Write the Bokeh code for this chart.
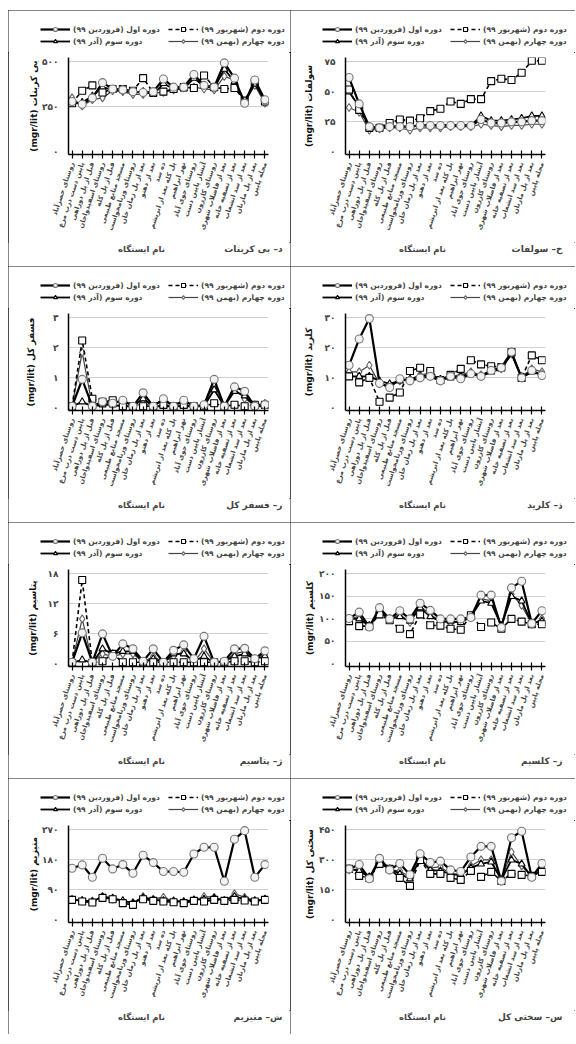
from bokeh.plotting import figure
from bokeh.models import Range1d, FixedTicker, Legend, LegendItem, Label, Spacer
from bokeh.layouts import row, column
from bokeh.embed import file_html
from bokeh.resources import INLINE

# ---------------- data ----------------
stations = [
    "روستای حصرآباد", "پایین دست درب مرغ", "قبل از پل دوراهی", "روستای اسفیدواجان",
    "قبل از پل کله", "مسجد منابع طبیعی", "روستای ورنامخواست", "بعد از پل زمان خان",
    "بعد از دهنو", "ده سد", "پل کله بعد از ابریشم", "نهر ابراهیم",
    "روستای جوی آباد", "آبشار پایین دست", "روستای کازرون", "بعد از فاضلاب شهری",
    "بعد از تصفیه خانه", "بعد از سد انشعاب", "بعد از پل مارنان", "محله پایین",
]
periods = ["دوره اول (فروردین ۹۹)", "دوره دوم (شهریور ۹۹)",
           "دوره سوم (آذر ۹۹)", "دوره چهارم (بهمن ۹۹)"]
station_title = "نام ایستگاه"
unit = "(mgr/lit)"

bicarb_p1 = [280, 265, 300, 385, 350, 345, 335, 330, 335, 405, 360, 360, 430, 370, 360, 495, 410, 270, 400, 290]
bicarb_p2 = [270, 340, 370, 330, 350, 350, 340, 410, 330, 335, 350, 360, 355, 425, 360, 350, 355, 285, 385, 280]
bicarb_p3 = [265, 275, 310, 360, 345, 340, 330, 335, 320, 380, 350, 350, 410, 365, 355, 460, 390, 280, 380, 285]
bicarb_p4 = [300, 255, 290, 300, 340, 335, 320, 320, 330, 330, 345, 355, 360, 350, 345, 420, 400, 275, 370, 270]
bicarb_ticks = [0, 250, 500]

sulfate_p1 = [62, 40, 21, 20, 21, 21, 21, 22, 22, 22, 22, 22, 22, 27, 24, 24, 25, 25, 26, 26]
sulfate_p2 = [52, 35, 20, 20, 24, 27, 26, 28, 34, 36, 42, 40, 44, 44, 59, 61, 60, 66, 76, 76]
sulfate_p3 = [50, 38, 20, 20, 21, 21, 21, 22, 22, 22, 22, 22, 22, 30, 26, 26, 27, 28, 30, 30]
sulfate_p4 = [37, 33, 18, 19, 20, 20, 18, 20, 20, 20, 21, 21, 21, 23, 22, 21, 22, 22, 23, 23]
sulfate_ticks = [0, 25, 50, 75]

phos_p1 = [0.05, 0.95, 0.05, 0.2, 0.15, 0.25, 0.05, 0.5, 0.05, 0.3, 0.05, 0.25, 0.05, 0.1, 0.95, 0.05, 0.7, 0.55, 0.05, 0.1]
phos_p2 = [0.05, 2.25, 0.3, 0.2, 0.25, 0.05, 0.05, 0.05, 0.05, 0.1, 0.05, 0.1, 0.05, 0.05, 0.15, 0.05, 0.1, 0.05, 0.1, 0.1]
phos_p3 = [0.05, 0.2, 0.05, 0.1, 0.1, 0.05, 0.05, 0.3, 0.05, 0.05, 0.05, 0.05, 0.05, 0.05, 0.6, 0.05, 0.55, 0.4, 0.05, 0.05]
phos_p4 = [0.05, 1.85, 0.05, 0.15, 0.1, 0.05, 0.05, 0.15, 0.05, 0.1, 0.05, 0.1, 0.05, 0.05, 0.8, 0.05, 0.65, 0.3, 0.1, 0.15]
phos_ticks = [0, 1, 2, 3]

chloride_p1 = [14.2, 23, 29.8, 8.2, 6.8, 9.7, 9, 10, 10.5, 9, 10.5, 9.7, 11.4, 10.5, 12.5, 13.4, 18.6, 10, 12.5, 10.8]
chloride_p2 = [10.5, 8.5, 10, 2, 3.4, 5.1, 12.3, 13.4, 12.3, 9.3, 11, 13, 15.9, 14.5, 13.9, 13.6, 18.6, 10, 17.5, 15.9]
chloride_p3 = [10.5, 10.5, 10.5, 9, 8, 9, 9.5, 10.5, 11, 9.5, 10, 10.5, 11.5, 10.5, 12, 13, 18, 10, 12, 11]
chloride_p4 = [12, 12, 14.2, 8, 7.5, 9, 9.5, 11, 11.5, 9.5, 10.5, 11, 12, 11, 12.5, 13, 18, 10.5, 13, 12]
chloride_ticks = [0, 10, 20, 30]

potassium_p1 = [0.3, 6.2, 0.3, 6.0, 1.5, 4.0, 3.0, 0.5, 3.0, 0.3, 2.7, 3.8, 1.0, 5.5, 0.3, 0.5, 3.0, 3.1, 1.0, 2.6]
potassium_p2 = [0.2, 16.8, 0.2, 0.5, 2.0, 0.3, 0.3, 0.3, 0.3, 0.3, 0.3, 0.3, 0.3, 0.3, 0.3, 0.3, 0.5, 0.5, 0.3, 0.5]
potassium_p3 = [0.2, 0.8, 0.2, 3.0, 2.0, 2.5, 2.5, 0.3, 1.0, 0.3, 2.0, 2.0, 0.5, 1.5, 0.2, 0.5, 1.5, 2.0, 1.0, 1.5]
potassium_p4 = [0.3, 9.0, 0.3, 2.0, 1.5, 2.0, 2.0, 0.3, 1.5, 0.3, 1.5, 2.5, 0.3, 3.0, 0.3, 0.5, 2.0, 2.5, 1.0, 2.0]
potassium_ticks = [0, 6, 12, 18]

calcium_p1 = [101, 115, 82, 125, 100, 118, 100, 135, 119, 100, 100, 100, 103, 153, 153, 81, 169, 184, 90, 118]
calcium_p2 = [95, 84, 84, 110, 97, 78, 66, 110, 86, 85, 78, 76, 108, 82, 92, 78, 100, 94, 88, 88]
calcium_p3 = [100, 100, 85, 115, 100, 105, 95, 125, 105, 95, 95, 92, 105, 140, 135, 85, 150, 140, 90, 95]
calcium_p4 = [100, 105, 85, 120, 100, 110, 92, 128, 110, 95, 90, 95, 108, 145, 140, 85, 155, 130, 88, 100]
calcium_ticks = [0, 50, 100, 150, 200]

magnesium_p1 = [155, 165, 128, 185, 153, 166, 140, 194, 172, 145, 145, 143, 198, 218, 218, 116, 242, 268, 128, 166]
magnesium_p2 = [60, 55, 52, 66, 62, 50, 45, 62, 57, 55, 53, 50, 57, 55, 60, 57, 60, 58, 55, 60]
magnesium_p3 = [60, 58, 55, 70, 65, 58, 50, 66, 60, 58, 57, 55, 60, 62, 65, 58, 70, 62, 57, 62]
magnesium_p4 = [62, 58, 56, 68, 62, 55, 52, 70, 62, 68, 55, 52, 58, 70, 68, 57, 78, 68, 58, 60]
magnesium_ticks = [0, 90, 180, 270]

hardness_p1 = [255, 277, 206, 308, 250, 282, 226, 331, 287, 294, 250, 242, 315, 368, 368, 194, 411, 444, 213, 282]
hardness_p2 = [255, 220, 210, 280, 255, 210, 170, 300, 230, 230, 210, 200, 245, 215, 240, 195, 230, 225, 220, 240]
hardness_p3 = [255, 245, 215, 290, 255, 230, 205, 305, 250, 245, 230, 225, 260, 280, 290, 200, 300, 280, 215, 250]
hardness_p4 = [250, 255, 210, 295, 250, 245, 215, 300, 260, 265, 230, 220, 270, 300, 300, 200, 340, 270, 215, 265]
hardness_ticks = [0, 150, 300, 450]

# ---------------- styling ----------------
FONT = "DejaVu Sans"
FW, FH = 200, 97
LEG_H, CAP_H = 42, 24
TOP, BOTTOM = 5, 88
EXT_LO, EXT_HI = 0.03, 0.05
RLM = "\u200f"
FA_DIGITS = str.maketrans("0123456789", "۰۱۲۳۴۵۶۷۸۹")


def fa(n):
    return str(n).translate(FA_DIGITS)


series_style = [
    dict(marker="circle", size=8, mline="#777777", mfill="#f2f2f2", color="black", width=2.2, dash="solid"),
    dict(marker="square", size=7, mline="black", mfill="white", color="black", width=1.6, dash="4 3"),
    dict(marker="triangle", size=7, mline="black", mfill="white", color="black", width=1.8, dash="solid"),
    dict(marker="diamond", size=8, mline="#666666", mfill="white", color="#444444", width=1.2, dash="solid"),
]


def strip(width, height):
    s = figure(width=width, height=height, min_border=0, x_axis_type=None, y_axis_type=None,
               x_range=Range1d(0, 1), y_range=Range1d(0, 1), frame_align=False,
               output_backend="svg", toolbar_location=None)
    s.outline_line_color = None
    s.grid.visible = False
    return s


def legend_strip(width, values):
    """Slim plot carrying the four-period key; its series sit outside its own view."""
    lf = strip(width, LEG_H)
    lf.y_range = Range1d(-1e9, -1e9 + 1)
    xs = list(range(len(stations)))
    spots = [(32, 18), (160, 18), (32, 6), (160, 6)]
    for k, st in enumerate(series_style):
        lr = lf.line(xs, values[k], line_color=st["color"], line_width=st["width"], line_dash=st["dash"])
        sr = lf.scatter(xs, values[k], marker=st["marker"], size=st["size"],
                        line_color=st["mline"], fill_color=st["mfill"], line_width=1.1)
        leg = Legend(items=[LegendItem(label=periods[k] + RLM, renderers=[lr, sr])],
                     location=spots[k], orientation="horizontal",
                     label_text_font=FONT, label_text_font_style="bold",
                     label_text_font_size="7.5px", label_height=10, glyph_height=10,
                     glyph_width=30, label_standoff=3, spacing=0, padding=0, margin=0,
                     border_line_color=None, background_fill_alpha=0)
        lf.add_layout(leg)
    return lf


def caption_strip(width, col, caption):
    cf = strip(width, CAP_H)
    cf.add_layout(Label(x=133 if col == 0 else 132, y=CAP_H - 6, x_units="screen", y_units="screen",
                        text=station_title, text_align="center", text_baseline="middle",
                        text_font=FONT, text_font_style="bold", text_font_size="8.5px"))
    cf.add_layout(Label(x=274 if col == 0 else 272, y=CAP_H - 6, x_units="screen", y_units="screen",
                        text=caption, text_align="right", text_baseline="middle",
                        text_font=FONT, text_font_style="bold", text_font_size="9px"))
    return cf


def make_panel(col, values, ticks, name, caption):
    width = 282 if col == 0 else 285
    left = 60 if col == 0 else 55
    right = width - left - FW
    top_tick = ticks[-1]
    p = figure(frame_width=FW, frame_height=FH,
               min_border_left=left, min_border_right=right,
               min_border_top=TOP, min_border_bottom=BOTTOM,
               x_range=Range1d(-0.35, len(stations) - 1 + 0.35),
               y_range=Range1d(-EXT_LO * top_tick, (1 + EXT_HI) * top_tick),
               frame_align=False, output_backend="svg", toolbar_location=None)
    p.outline_line_color = None

    xs = list(range(len(stations)))
    for k in [3, 2, 1, 0]:
        st = series_style[k]
        p.line(xs, values[k], line_color=st["color"], line_width=st["width"], line_dash=st["dash"])
        p.scatter(xs, values[k], marker=st["marker"], size=st["size"],
                  line_color=st["mline"], fill_color=st["mfill"], line_width=1.1)

    # station axis
    xa = p.xaxis[0]
    xa.ticker = FixedTicker(ticks=xs)
    xa.major_label_overrides = {i: s for i, s in enumerate(stations)}
    xa.major_label_orientation = 1.25
    xa.major_label_text_font = FONT
    xa.major_label_text_font_style = "bold"
    xa.major_label_text_font_size = "6.8px"
    xa.major_tick_in = 4
    xa.major_tick_out = 4
    xa.minor_tick_line_color = None
    xa.axis_line_width = 1.5
    xa.major_tick_line_width = 1.2
    xa.major_label_standoff = 4

    # concentration axis; its title sits at a fixed distance from the panel edge
    digits = max(len(str(t)) for t in ticks)
    tick_w = 7 * digits
    label_right = (24 if col == 0 else 18) + 5
    ya = p.yaxis[0]
    ya.ticker = FixedTicker(ticks=ticks)
    ya.major_label_overrides = {t: fa(t) for t in ticks}
    ya.major_label_text_font = FONT
    ya.major_label_text_font_style = "bold"
    ya.major_label_text_font_size = "9px"
    ya.major_tick_line_color = None
    ya.major_tick_in = 0
    ya.major_tick_out = 0
    ya.minor_tick_line_color = None
    ya.minor_tick_out = 0
    ya.axis_line_width = 1.5
    ya.major_label_standoff = 10
    ya.axis_label = unit + " " + name
    ya.axis_label_text_font = FONT
    ya.axis_label_text_font_style = "bold"
    ya.axis_label_text_font_size = "9px"
    ya.axis_label_text_color = "#111111"
    ya.axis_label_standoff = max(0, int(left - 10 - tick_w - label_right))

    p.xgrid.grid_line_color = None
    p.ygrid.ticker = FixedTicker(ticks=ticks[1:])
    p.ygrid.grid_line_color = "#d0d0d0"
    p.ygrid.grid_line_width = 1.2

    box = column(legend_strip(width, values), p, caption_strip(width, col, caption), spacing=0)
    box.styles = {"outline": "1.5px solid #111111", "outline-offset": "-1px"}
    return box


panels = [
    make_panel(0, [bicarb_p1, bicarb_p2, bicarb_p3, bicarb_p4], bicarb_ticks, "بی کربنات", "د– بی کربنات"),
    make_panel(1, [sulfate_p1, sulfate_p2, sulfate_p3, sulfate_p4], sulfate_ticks, "سولفات", "خ– سولفات"),
    make_panel(0, [phos_p1, phos_p2, phos_p3, phos_p4], phos_ticks, "فسفر کل", "ر– فسفر کل"),
    make_panel(1, [chloride_p1, chloride_p2, chloride_p3, chloride_p4], chloride_ticks, "کلرید", "ذ– کلرید"),
    make_panel(0, [potassium_p1, potassium_p2, potassium_p3, potassium_p4], potassium_ticks, "پتاسیم", "ژ– پتاسیم"),
    make_panel(1, [calcium_p1, calcium_p2, calcium_p3, calcium_p4], calcium_ticks, "کلسیم", "ز– کلسیم"),
    make_panel(0, [magnesium_p1, magnesium_p2, magnesium_p3, magnesium_p4], magnesium_ticks, "منیزیم", "ش– منیزیم"),
    make_panel(1, [hardness_p1, hardness_p2, hardness_p3, hardness_p4], hardness_ticks, "سختی کل", "س– سختی کل"),
]

rows = [row(panels[i], panels[i + 1], spacing=0) for i in range(0, 8, 2)]
grid = column(*rows, spacing=0)
page = column(Spacer(height=10, width=10), row(Spacer(width=8, height=10), grid, spacing=0), spacing=0)

open("out.html", "w").write(file_html(page, INLINE))
